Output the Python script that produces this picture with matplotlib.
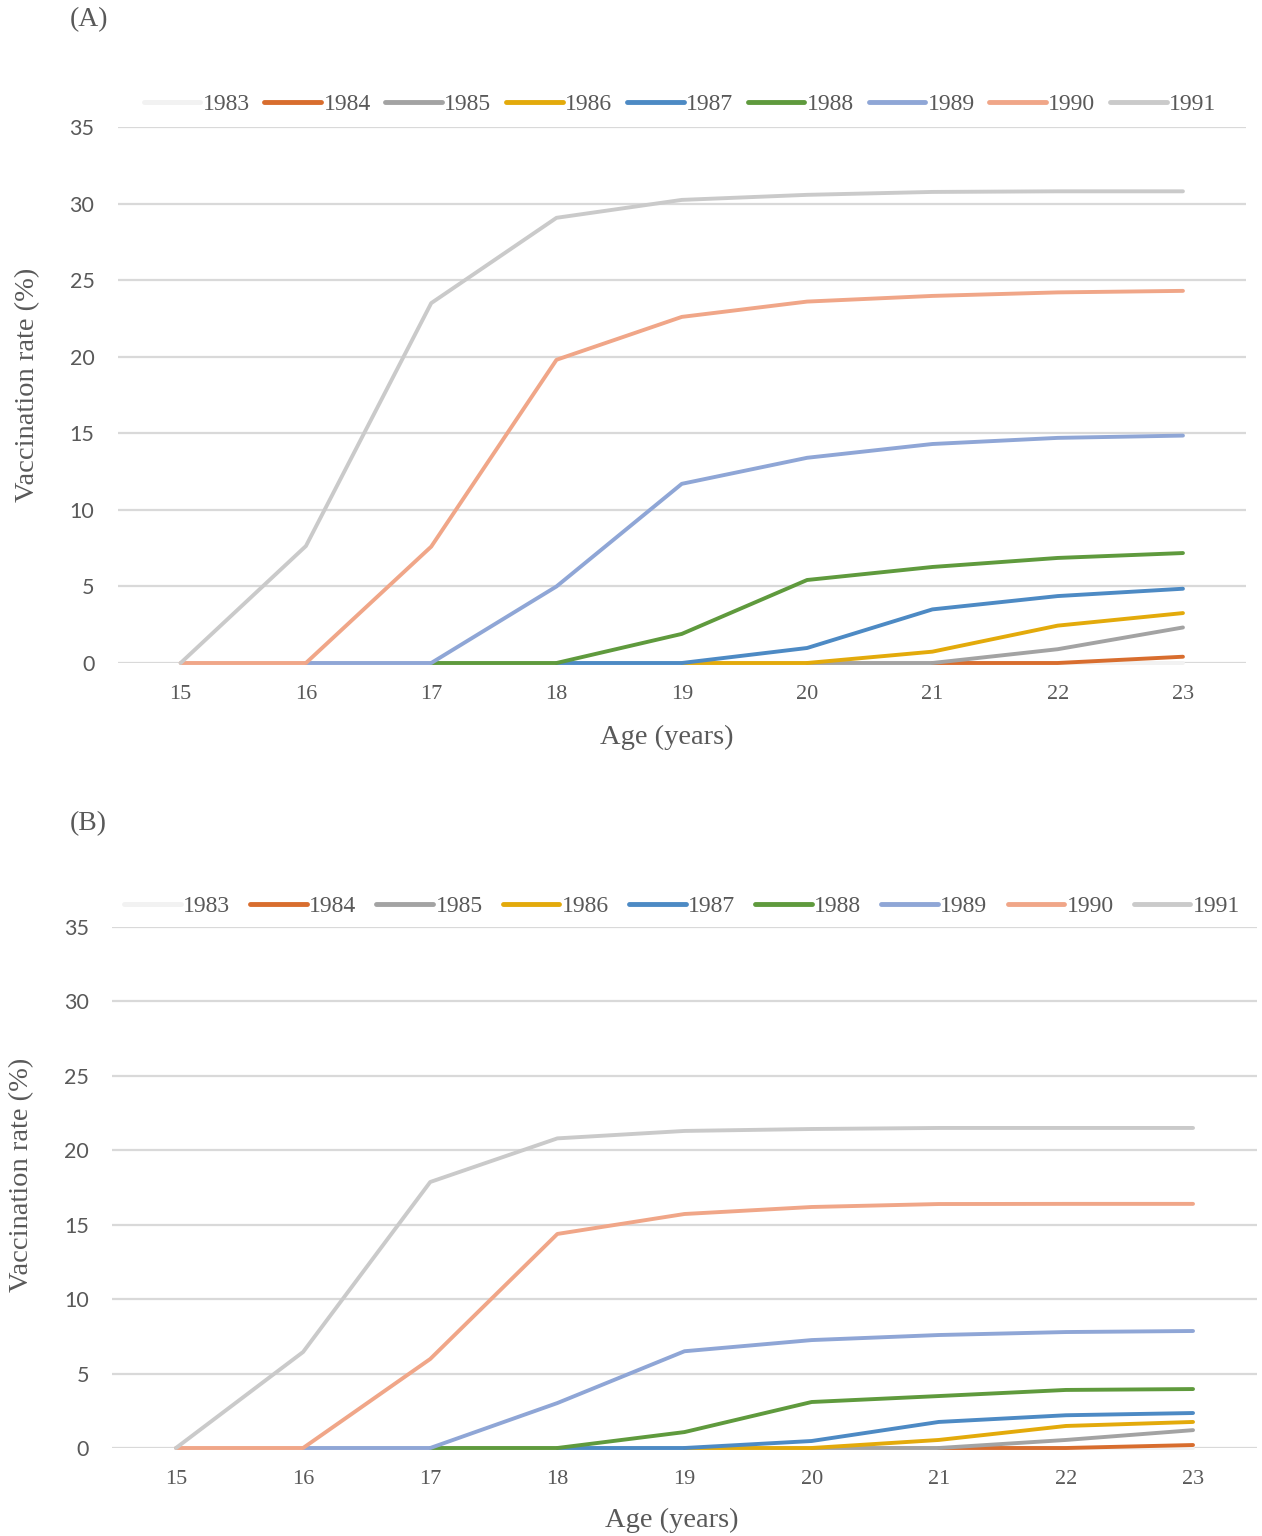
import matplotlib
matplotlib.use("Agg")
import matplotlib.pyplot as plt

W, H = 1262, 1536
ages = [15, 16, 17, 18, 19, 20, 21, 22, 23]
cohorts = ["1983", "1984", "1985", "1986", "1987", "1988", "1989", "1990", "1991"]
colors = ["#f2f2f2", "#d86d2e", "#a3a3a3", "#e3aa0b", "#4d8ac4", "#5f9a3d", "#8fa6d6", "#f0a688", "#cacaca"]

# first age with data for each cohort
start_age = [22, 21, 20, 19, 18, 17, 16, 15, 15]

# Panel A values (from start age onwards)
a_1983 = [0, 0]
a_1984 = [0, 0, 0.41]
a_1985 = [0, 0, 0.9, 2.32]
a_1986 = [0, 0, 0.74, 2.44, 3.26]
a_1987 = [0, 0, 0.98, 3.5, 4.37, 4.85]
a_1988 = [0, 0, 1.9, 5.42, 6.27, 6.86, 7.18]
a_1989 = [0, 0, 5.0, 11.7, 13.4, 14.3, 14.7, 14.85]
a_1990 = [0, 0, 7.6, 19.8, 22.6, 23.6, 23.97, 24.2, 24.3]
a_1991 = [0, 7.64, 23.5, 29.07, 30.24, 30.57, 30.76, 30.8, 30.8]
panel_a = [a_1983, a_1984, a_1985, a_1986, a_1987, a_1988, a_1989, a_1990, a_1991]

# Panel B values
b_1983 = [0, 0]
b_1984 = [0, 0, 0.2]
b_1985 = [0, 0, 0.54, 1.2]
b_1986 = [0, 0, 0.54, 1.48, 1.75]
b_1987 = [0, 0, 0.47, 1.75, 2.2, 2.35]
b_1988 = [0, 0, 1.07, 3.09, 3.49, 3.9, 3.96]
b_1989 = [0, 0, 3.02, 6.5, 7.25, 7.59, 7.79, 7.86]
b_1990 = [0, 0, 5.98, 14.38, 15.72, 16.19, 16.39, 16.4, 16.4]
b_1991 = [0, 6.45, 17.87, 20.8, 21.3, 21.43, 21.5, 21.5, 21.5]
panel_b = [b_1983, b_1984, b_1985, b_1986, b_1987, b_1988, b_1989, b_1990, b_1991]

yticks = [0, 5, 10, 15, 20, 25, 30, 35]

SERIF = "Liberation Serif"
SANS = "Lato"
TXT = "#595959"

fig = plt.figure(figsize=(W / 100, H / 100), dpi=100)


def px_axes(left, right, top, bottom):
    return fig.add_axes([left / W, 1 - bottom / H, (right - left) / W, (bottom - top) / H])


def draw_panel(ax, data, legend_y, legend_x, colsp):
    handles = []
    for name, col, s, vals in zip(cohorts, colors, start_age, data):
        xs = [a for a in ages if a >= s][:len(vals)]
        (ln,) = ax.plot(xs, vals, color=col, lw=2.8, solid_capstyle="round",
                        solid_joinstyle="round", clip_on=False, label=name, zorder=3)
        handles.append(ln)
    ax.set_xlim(14.5, 23.5)
    ax.set_ylim(0, 35)
    ax.set_yticks(yticks)
    ax.set_xticks(ages)
    ax.set_xticklabels([str(a) for a in ages], fontfamily=SERIF, fontsize=16, color=TXT)
    ax.set_yticklabels([str(v) for v in yticks], fontfamily=SANS, fontsize=15.5, color=TXT)
    ax.tick_params(axis="both", length=0)
    ax.tick_params(axis="x", pad=16)
    ax.tick_params(axis="y", pad=17)
    for sp in ax.spines.values():
        sp.set_visible(False)
    ax.grid(axis="y", color="#d9d9d9", lw=1.6, zorder=0)
    ax.set_axisbelow(True)
    leg = fig.legend(handles=handles, loc="center", bbox_to_anchor=(legend_x / W, 1 - legend_y / H),
                     ncol=9, frameon=False, handlelength=2.4, handletextpad=0.1,
                     columnspacing=colsp, prop={"family": SERIF, "size": 17})
    for t in leg.get_texts():
        t.set_color(TXT)
    for lh in leg.get_lines():
        lh.set_linewidth(3.5)
    return ax


axA = px_axes(118, 1245.6, 127, 663)
draw_panel(axA, panel_a, 104, 680, 0.62)
axB = px_axes(112.4, 1256.6, 927, 1448)
draw_panel(axB, panel_b, 906, 682, 0.85)

fig.text(70 / W, 1 - 20 / H, "(A)", fontfamily=SERIF, fontsize=20, color=TXT, ha="left", va="center")
fig.text(70 / W, 1 - 824 / H, "(B)", fontfamily=SERIF, fontsize=20, color=TXT, ha="left", va="center")

fig.text(667 / W, 1 - 737 / H, "Age (years)", fontfamily=SERIF, fontsize=20.5, color=TXT, ha="center", va="center")
fig.text(672 / W, 1 - 1520 / H, "Age (years)", fontfamily=SERIF, fontsize=20.5, color=TXT, ha="center", va="center")
fig.text(28 / W, 1 - 385 / H, "Vaccination rate (%)", fontfamily=SERIF, fontsize=20.5, color=TXT,
         ha="center", va="center", rotation=90)
fig.text(22 / W, 1 - 1175 / H, "Vaccination rate (%)", fontfamily=SERIF, fontsize=20.5, color=TXT,
         ha="center", va="center", rotation=90)

fig.savefig("out.png", dpi=100, facecolor="white")
